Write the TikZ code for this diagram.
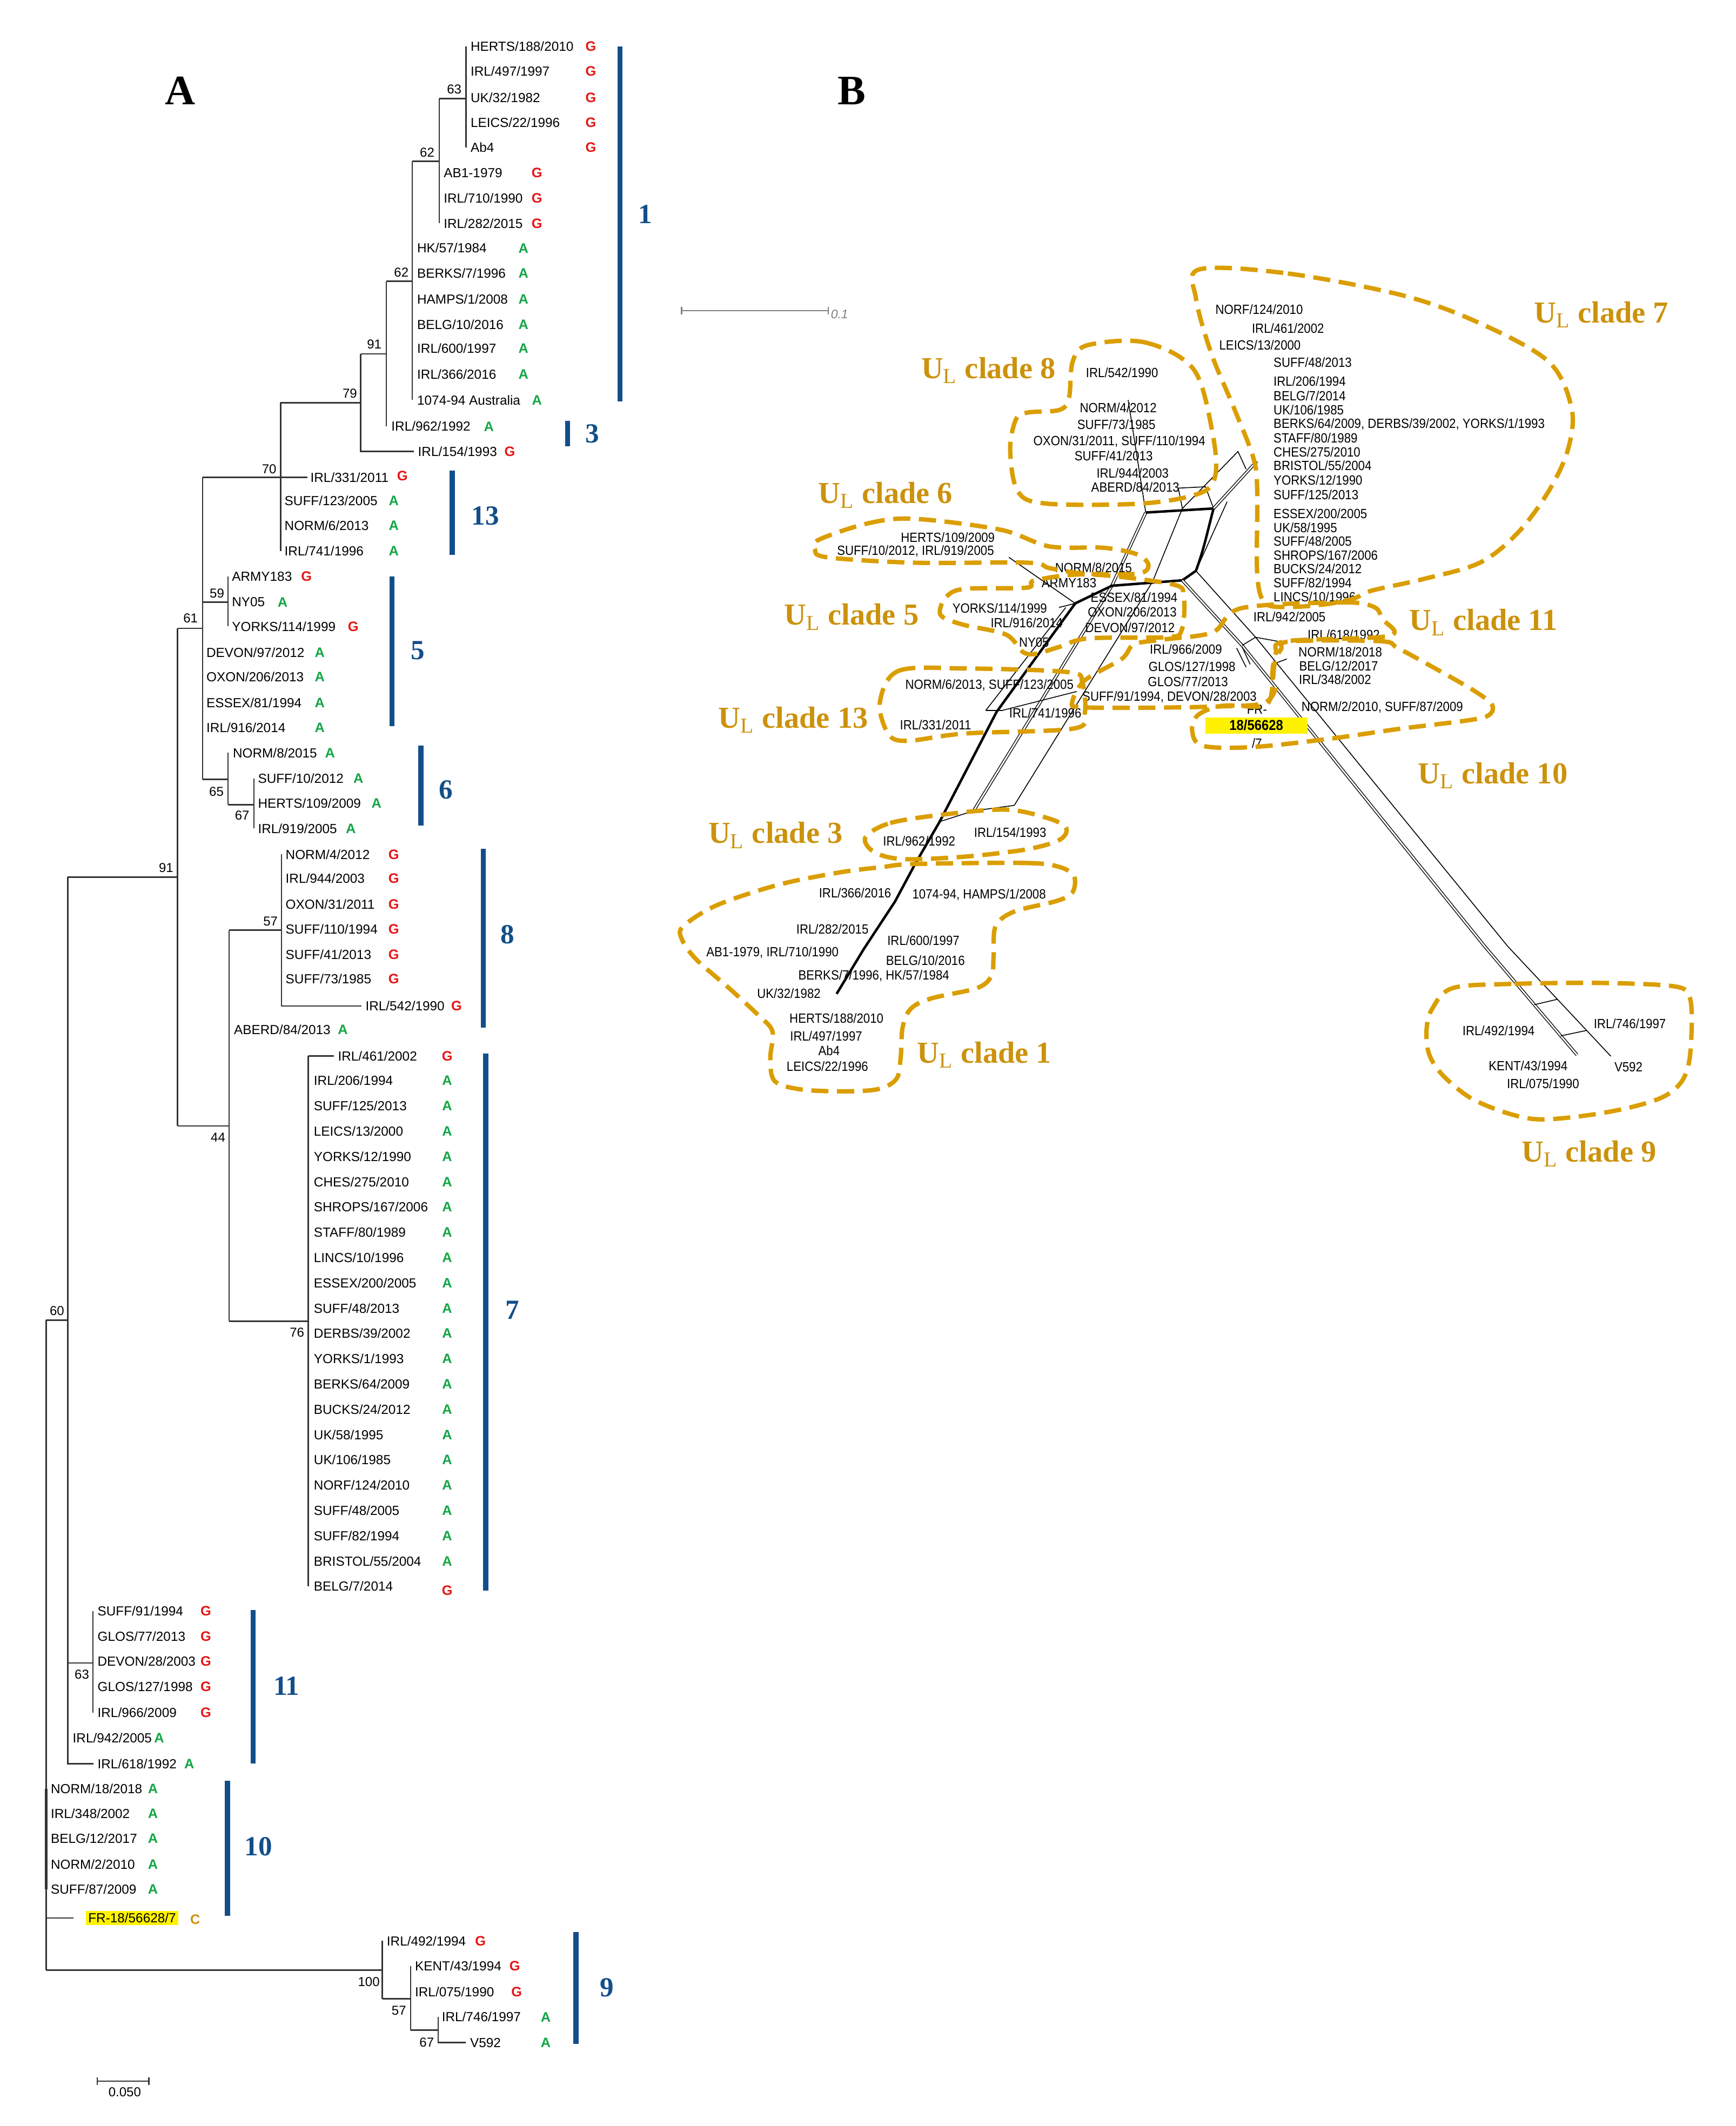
\documentclass[tikz,border=0pt]{standalone}
\usepackage{fontspec}
\setmainfont{Liberation Serif}
\newfontfamily\treefont{Liberation Sans}
\newfontfamily\netfont[FakeStretch=0.9]{Liberation Sans}

\definecolor{barblue}{RGB}{18,78,138}
\definecolor{cladeorange}{RGB}{218,158,0}
\definecolor{cladetext}{RGB}{204,146,12}
\definecolor{markred}{RGB}{232,20,20}
\definecolor{markgreen}{RGB}{20,165,70}

\tikzset{
  br/.style={draw=black!80, line width=0.7pt},
  lbl/.style={anchor=west, inner sep=0pt, font=\treefont\fontsize{6.9}{8}\selectfont},
  mkG/.style={inner sep=0pt, text=markred, font=\treefont\bfseries\fontsize{7.2}{8}\selectfont},
  mkA/.style={inner sep=0pt, text=markgreen, font=\treefont\bfseries\fontsize{7.2}{8}\selectfont},
  mkC/.style={inner sep=0pt, text=cladetext, font=\treefont\bfseries\fontsize{7.2}{8}\selectfont},
  bs/.style={inner sep=0pt, font=\treefont\fontsize{6.8}{8}\selectfont},
  bar/.style={draw=barblue, line width=2.7pt},
  cnum/.style={inner sep=0pt, text=barblue, font=\bfseries\fontsize{14.5}{16}\selectfont},
  panel/.style={inner sep=0pt, font=\bfseries\fontsize{22}{24}\selectfont},
  net/.style={draw=black, line width=0.45pt},
  netk/.style={draw=black, line width=1.3pt},
  netd/.style={draw=black, line width=0.4pt, double=white, double distance=0.8pt},
  nl/.style={inner sep=0pt, font=\netfont\fontsize{7}{8}\selectfont},
  nlw/.style={nl, anchor=west},
  clade/.style={draw=cladeorange, line width=2.3pt, dash pattern=on 9pt off 4.5pt},
  cname/.style={inner sep=0pt, text=cladetext, font=\bfseries\fontsize{16}{18}\selectfont},
}

\begin{document}
\begin{tikzpicture}[x=0.025cm, y=-0.025cm]
    \useasboundingbox (0,0) rectangle (1280,1568);

    % Panel letters
    \node[panel] (pa) at (133,67) {A};
    \node[panel] (pb) at (628,67) {B};

    % ================= A: tree =================
    % Leaves
    \foreach \y/\t [count=\i] in {34.3/{HERTS/188/2010}, 52.6/{IRL/497/1997}, 72/{UK/32/1982}, 90.3/{LEICS/22/1996}, 108.6/{Ab4}}{
        \node[lbl] (la\i) at (346.8,\y) {\t};
        \node[mkG] (ma\i) at (435.7,\y) {G};
    }
    \foreach \y/\t [count=\i] in {127.6/{AB1-1979}, 146/{IRL/710/1990}, 164.7/{IRL/282/2015}}{
        \node[lbl] (lb\i) at (327,\y) {\t};
        \node[mkG] (mb\i) at (396,\y) {G};
    }
    \foreach \y/\t/\mx [count=\i] in {183/{HK/57/1984}/386, 201.7/{BERKS/7/1996}/386, 220.7/{HAMPS/1/2008}/386, 239.5/{BELG/10/2016}/386, 257/{IRL/600/1997}/386, 276/{IRL/366/2016}/386, 295/{1074-94 Australia}/396}{
        \node[lbl] (lc\i) at (307.4,\y) {\t};
        \node[mkA] (mc\i) at (\mx,\y) {A};
    }
    \node[lbl] (l962) at (288.4,314.5) {IRL/962/1992};
    \node[mkA] (m962) at (360.5,314.5) {A};
    \node[lbl] (l154) at (308,333) {IRL/154/1993};
    \node[mkG] (m154) at (376,333) {G};
    \node[lbl] (l331) at (228.7,352) {IRL/331/2011};
    \node[mkG] (m331) at (296.8,351) {G};
    \foreach \y/\t [count=\i] in {369.3/{SUFF/123/2005}, 387.8/{NORM/6/2013}, 406.3/{IRL/741/1996}}{
        \node[lbl] (ld\i) at (209.6,\y) {\t};
        \node[mkA] (md\i) at (290.4,\y) {A};
    }
    \foreach \y/\t/\m/\mx [count=\i] in {425.2/ARMY183/G/226, 444/NY05/A/208.4, 462/{YORKS/114/1999}/G/260.5}{
        \node[lbl] (le\i) at (170.8,\y) {\t};
        \node[mk\m] (me\i) at (\mx,\y) {\m};
    }
    \foreach \y/\t [count=\i] in {481.2/{DEVON/97/2012}, 499.3/{OXON/206/2013}, 518.3/{ESSEX/81/1994}, 536.5/{IRL/916/2014}}{
        \node[lbl] (lf\i) at (152,\y) {\t};
        \node[mkA] (mf\i) at (235.8,\y) {A};
    }
    \node[lbl] (l815) at (171.5,555.2) {NORM/8/2015};
    \node[mkA] (m815) at (243.4,555.2) {A};
    \foreach \y/\t/\mx [count=\i] in {574.2/{SUFF/10/2012}/264.3, 592.4/{HERTS/109/2009}/277.7, 611/{IRL/919/2005}/258.7}{
        \node[lbl] (lg\i) at (190,\y) {\t};
        \node[mkA] (mg\i) at (\mx,\y) {A};
    }
    \foreach \y/\t [count=\i] in {630.1/{NORM/4/2012}, 648/{IRL/944/2003}, 667/{OXON/31/2011}, 685.2/{SUFF/110/1994}, 704/{SUFF/41/2013}, 722/{SUFF/73/1985}}{
        \node[lbl] (lh\i) at (210.4,\y) {\t};
        \node[mkG] (mh\i) at (290.4,\y) {G};
    }
    \node[lbl] (l542) at (269.3,742) {IRL/542/1990};
    \node[mkG] (m542) at (336.7,742) {G};
    \node[lbl] (laberd) at (172.3,759.3) {ABERD/84/2013};
    \node[mkA] (maberd) at (252.8,759.3) {A};
    \node[lbl] (l461) at (249,778.8) {IRL/461/2002};
    \node[mkG] (m461) at (329.8,778.8) {G};
    \foreach \t [count=\i, evaluate=\i as \y using 797+(\i-1)*18.65] in {{IRL/206/1994}, {SUFF/125/2013}, {LEICS/13/2000}, {YORKS/12/1990}, {CHES/275/2010}, {SHROPS/167/2006}, {STAFF/80/1989}, {LINCS/10/1996}, {ESSEX/200/2005}, {SUFF/48/2013}, {DERBS/39/2002}, {YORKS/1/1993}, {BERKS/64/2009}, {BUCKS/24/2012}, {UK/58/1995}, {UK/106/1985}, {NORF/124/2010}, {SUFF/48/2005}, {SUFF/82/1994}, {BRISTOL/55/2004}}{
        \node[lbl] (li\i) at (231.2,\y) {\t};
        \node[mkA] (mi\i) at (329.8,\y) {A};
    }
    \node[lbl] (li21) at (231.2,1170) {BELG/7/2014};
    \node[mkG] (mi21) at (329.8,1173) {G};
    \foreach \y/\t [count=\i] in {1188.3/{SUFF/91/1994}, 1206.7/{GLOS/77/2013}, 1225.1/{DEVON/28/2003}, 1244/{GLOS/127/1998}, 1263.2/{IRL/966/2009}}{
        \node[lbl] (lj\i) at (71.7,\y) {\t};
        \node[mkG] (mj\i) at (151.8,\y) {G};
    }
    \node[lbl] (l942) at (53.4,1281.6) {IRL/942/2005};
    \node[mkA] (m942) at (117.4,1281.6) {A};
    \node[lbl] (l618) at (71.7,1300.8) {IRL/618/1992};
    \node[mkA] (m618) at (139.6,1300.8) {A};
    \foreach \y/\t [count=\i] in {1319.3/{NORM/18/2018}, 1337.7/{IRL/348/2002}, 1356/{BELG/12/2017}, 1375/{NORM/2/2010}, 1393.4/{SUFF/87/2009}}{
        \node[lbl] (lk\i) at (37.2,\y) {\t};
        \node[mkA] (mk\i) at (112.8,\y) {A};
    }
    \node[lbl, fill=yellow, inner xsep=1.2pt, inner ysep=1.2pt] (lfr) at (63.1,1414.5) {FR-18/56628/7};
    \node[mkC] (mfr) at (144,1415.8) {C};
    \node[lbl] (l492) at (285,1431.5) {IRL/492/1994};
    \node[mkG] (m492) at (354.3,1431.5) {G};
    \node[lbl] (ll1) at (305.8,1450) {KENT/43/1994};
    \node[mkG] (ml1) at (379.6,1450) {G};
    \node[lbl] (ll2) at (305.8,1468.9) {IRL/075/1990};
    \node[mkG] (ml2) at (381,1468.9) {G};
    \node[lbl] (l746) at (325.6,1487.6) {IRL/746/1997};
    \node[mkA] (m746) at (402.5,1487.6) {A};
    \node[lbl] (lv592) at (346.4,1506.5) {V592};
    \node[mkA] (mv592) at (402.5,1506.5) {A};

    % Internal nodes
    \coordinate (n63a) at (343.6,72.7);
    \coordinate (n62a) at (324,119);
    \coordinate (n62b) at (304,207.4);
    \coordinate (n91a) at (285,261);
    \coordinate (n79) at (266,297);
    \coordinate (n70) at (207,352);
    \coordinate (n61) at (149.4,463.5);
    \coordinate (n59) at (168.2,444);
    \coordinate (n65) at (168.2,574.8);
    \coordinate (n67a) at (187.3,593.5);
    \coordinate (n91b) at (130.9,646.9);
    \coordinate (n44) at (169,830.5);
    \coordinate (n57a) at (207.6,686);
    \coordinate (n76) at (227.4,974.4);
    \coordinate (n60) at (50,973.6);
    \coordinate (n63b) at (68.6,1226.4);
    \coordinate (root) at (34,1453);
    \coordinate (efr) at (54.3,1414.5);
    \coordinate (n100) at (282,1453);
    \coordinate (n57b) at (302.8,1474.2);
    \coordinate (n67b) at (323.2,1497.3);

    % Branches
    \draw[br] (n63a |- la1) -- (n63a |- la5);
    \draw[br] (n62a |- n63a) -- (n63a);
    \draw[br] (n62a |- n63a) -- (n62a |- lb3);
    \draw[br] (n62b |- n62a) -- (n62a);
    \draw[br] (n62b |- n62a) -- (n62b |- lc7);
    \draw[br] (n91a |- n62b) -- (n62b);
    \draw[br] (n91a |- n62b) -- (n91a |- l962);
    \draw[br] (n79 |- n91a) -- (n91a);
    \draw[br] (n79 |- n91a) -- (n79 |- l154) -- ([xshift=-2pt]l154.west);
    \draw[br] (n70 |- n79) -- (n79);
    \draw[br] (n70 |- n79) -- (n70 |- ld3);
    \draw[br] (n70) -- ([xshift=-1.5pt]l331.west);
    \draw[br] (n61 |- n70) -- (n70);
    \draw[br] (n61 |- n70) -- (n61 |- n65);
    \draw[br] (n61 |- n59) -- (n59);
    \draw[br] (n59 |- le1) -- (n59 |- le3);
    \draw[br] (n61 |- n65) -- (n65);
    \draw[br] (n65 |- l815) -- (n65 |- n67a);
    \draw[br] (n65 |- n67a) -- (n67a);
    \draw[br] (n67a |- lg1) -- (n67a |- lg3);
    \draw[br] (n91b |- n61) -- (n61);
    \draw[br] (n91b |- n61) -- (n91b |- n44);
    \draw[br] (n91b |- n44) -- (n44);
    \draw[br] (n44 |- n57a) -- (n44 |- n76);
    \draw[br] (n44 |- n57a) -- (n57a);
    \draw[br] (n57a |- lh1) -- (n57a |- l542) -- ([xshift=-2pt]l542.west);
    \draw[br] (n44 |- n76) -- (n76);
    \draw[br] (n76 |- l461) -- (n76 |- li21);
    \draw[br] (n76 |- l461) -- ([xshift=-2pt]l461.west);
    \draw[br] (n60 |- n91b) -- (n91b);
    \draw[br] (n60 |- n91b) -- (n60 |- l618) -- ([xshift=-2pt]l618.west);
    \draw[br] (n60 |- n63b) -- (n63b);
    \draw[br] (n63b |- lj1) -- (n63b |- lj5);
    \draw[br] (root |- n60) -- (n60);
    \draw[br] (root |- n60) -- (root);
    \draw[br, line width=1.3pt] (root |- lk1) -- (root |- lk5);
    \draw[br] (root |- lfr) -- (efr);
    \draw[br] (root) -- (n100);
    \draw[br] (n100 |- l492) -- (n100 |- n57b);
    \draw[br] (n100 |- n57b) -- (n57b);
    \draw[br] (n57b |- ll1) -- (n57b |- n67b);
    \draw[br] (n57b |- n67b) -- (n67b);
    \draw[br] (n67b |- l746) -- (n67b |- lv592) -- ([xshift=-2pt]lv592.west);

    % Support values
    \foreach \x/\y/\v [count=\i] in {335/66/63, 315/112.5/62, 296/201/62, 276/254/91, 258/290/79, 198.5/345.8/70, 160/437.8/59, 140.5/456/61, 159.6/583.7/65, 178.6/601.3/67, 122.5/640/91, 199.5/679.6/57, 160.8/838.9/44, 219/982.8/76, 42/966.6/60, 60.4/1235/63, 272/1461.8/100, 294.2/1482.8/57, 314.7/1506.5/67}
        \node[bs] (bs\i) at (\x,\y) {\v};

    % Clade bars
    \foreach \n/\x/\ya/\yb/\lx/\ly in {1/457.3/34.3/296/476/158, 3/418.6/310.6/329/436.7/319.7, 13/333.6/347/409.3/358/380.5, 5/289/425/535.7/308/479.7, 6/310.5/550/609/329/582.6, 8/356.5/626/758/374.3/689.4, 7/358.3/777/1173/377.9/966, 11/186.6/1187.5/1300.6/211.3/1243.5, 10/167.7/1313.2/1413.1/190.6/1361.9, 9/424.7/1425/1507.3/447.6/1465.7}{
        \coordinate (bt\n) at (\x,\ya);
        \coordinate (bb\n) at (\x,\yb);
        \draw[bar] (bt\n) -- (bb\n);
        \node[cnum] (cn\n) at (\lx,\ly) {\n};
    }

    % Scale bar
    \coordinate (sa) at (71.7,1535);
    \coordinate (sb) at (109.8,1535);
    \draw[br] (sa) -- (sb);
    \draw[br] ([yshift=2pt]sa) -- ([yshift=-2pt]sa);
    \draw[br] ([yshift=2pt]sb) -- ([yshift=-2pt]sb);
    \node[bs] (sl) at (92,1543) {0.050};

    % ================= B: network =================
    % Scale
    \coordinate (na) at (502.7,229.1);
    \coordinate (nb) at (610.9,229.1);
    \draw[draw=gray, line width=0.7pt] (na) -- (nb);
    \draw[draw=gray, line width=0.7pt] ([yshift=2pt]na) -- ([yshift=-2pt]na);
    \draw[draw=gray, line width=0.7pt] ([yshift=2pt]nb) -- ([yshift=-2pt]nb);
    \node[inner sep=0pt, anchor=west, text=gray, font=\treefont\itshape\fontsize{6.5}{7}\selectfont] (nsl) at (612.5,231.8) {0.1};

    % Split points
    \coordinate (t0) at (617,733);
    \coordinate (t1) at (637,700);
    \coordinate (t2) at (660,665);
    \coordinate (t3) at (675,637);
    \coordinate (t4) at (693,606);
    \coordinate (t5) at (735,525);
    \coordinate (h1) at (793,445);
    \coordinate (y1) at (781,448);
    \coordinate (q1) at (718,598);
    \coordinate (q2) at (748,594);
    \coordinate (m1) at (820,432);
    \coordinate (m2) at (850,429);
    \coordinate (b1) at (845,378);
    \coordinate (b2) at (895,375);
    \coordinate (b3) at (872,375);
    \coordinate (b4) at (869,360);
    \coordinate (b5) at (889,359);
    \coordinate (b6) at (905,370);
    \coordinate (s1) at (927,340);
    \coordinate (s2) at (913,333);
    \coordinate (s3) at (919,346);
    \coordinate (c8) at (832,295);
    \coordinate (a1) at (744,411);
    \coordinate (h2) at (872,428);
    \coordinate (h3) at (882,421);
    \coordinate (k1) at (916,476);
    \coordinate (k3) at (926,470);
    \coordinate (k2) at (1095,698);
    \coordinate (k4) at (1112,698);
    \coordinate (kent) at (1163,778);
    \coordinate (v592) at (1188,779);
    \coordinate (r1) at (1131.5,741);
    \coordinate (r2) at (1148.6,737);
    \coordinate (r3) at (1151,764);
    \coordinate (r4) at (1170,760);
    \coordinate (p1) at (727,524);
    \coordinate (p2) at (786,448);
    \coordinate (p3) at (739,524);
    \coordinate (p4) at (794,510);
    \coordinate (e1) at (948,474);
    \coordinate (e2) at (941,489);
    \coordinate (e3) at (949,486);
    \coordinate (f1) at (912,478);
    \coordinate (f2) at (919,492);
    \coordinate (f3) at (916,477);
    \coordinate (f4) at (922,490);

    % Splits
    \draw[netk] (t0) -- (t1) -- (t2) -- (t3) -- (t4) -- (t5) -- (h1);
    \draw[net] (t4) -- (q1) -- (q2);
    \draw[netd] (q1) -- (m1) -- (b1);
    \draw[net] (q2) -- (m2) -- (b3);
    \draw[net] (p1) -- (p2);
    \draw[net] (p1) -- (p3) -- (p4);
    \draw[netk] (h1) -- (m1) -- (h2);
    \draw[net] (h1) -- (a1);
    \draw[net] (h1) -- (y1);
    \draw[netk] (b1) -- (b2);
    \draw[net] (b1) -- (c8);
    \draw[net] (b3) -- (b4) -- (b5) -- (b2);
    \draw[netd] (b2) -- (s1);
    \draw[net] (b3) -- (s2) -- (s3);
    \draw[netk] (b2) to[out=-105, in=70] (h3);
    \draw[net] (b6) -- (h3);
    \draw[netk] (h2) -- (h3);
    \draw[netd] (h2) -- (k1) -- (k2) -- (kent);
    \draw[net] (h3) -- (k3) -- (k4) -- (v592);
    \draw[net] (k1) -- (k3);
    \draw[net] (k3) -- (e1);
    \draw[net] (e2) -- (e3);
    \draw[net] (f1) -- (f2);
    \draw[net] (f3) -- (f4);
    \draw[net] (r1) -- (r2);
    \draw[net] (r3) -- (r4);

    % Network labels
    \foreach \x/\y/\t [count=\i] in {
        827.5/274.9/{IRL/542/1990}, 824.7/300.9/{NORM/4/2012}, 823.3/313.1/{SUFF/73/1985},
        825.5/325.7/{OXON/31/2011, SUFF/110/1994}, 821.3/336.2/{SUFF/41/2013},
        835.3/349/{IRL/944/2003}, 837.3/359.2/{ABERD/84/2013},
        699/396.4/{HERTS/109/2009}, 675.2/406.6/{SUFF/10/2012, IRL/919/2005},
        806.5/418.8/{NORM/8/2015}, 788.4/430/{ARMY183},
        737.3/448.5/{YORKS/114/1999}, 757.2/459.2/{IRL/916/2014}, 762.6/473.8/{NY05},
        836.4/440.5/{ESSEX/81/1994}, 835/451.2/{OXON/206/2013}, 833.4/462.8/{DEVON/97/2012},
        729.7/505.5/{NORM/6/2013, SUFF/123/2005}, 690/534.8/{IRL/331/2011}, 770.9/526/{IRL/741/1996},
        951/455/{IRL/942/2005}, 991/468/{IRL/618/1992}, 874.6/478.8/{IRL/966/2009},
        879.1/491.6/{GLOS/127/1998}, 876.1/502.8/{GLOS/77/2013}, 862.5/514/{SUFF/91/1994, DEVON/28/2003},
        988.5/481/{NORM/18/2018}, 987.2/491/{BELG/12/2017}, 984.6/501/{IRL/348/2002},
        1019.4/521.5/{NORM/2/2010, SUFF/87/2009}, 927/523/{FR-}, 927/548/{/7},
        677.9/620.2/{IRL/962/1992}, 745/614/{IRL/154/1993},
        630.6/658.6/{IRL/366/2016}, 722.1/660.1/{1074-94, HAMPS/1/2008}, 613.9/685.2/{IRL/282/2015},
        681/693.6/{IRL/600/1997}, 569.7/702.5/{AB1-1979, IRL/710/1990}, 682.5/708.4/{BELG/10/2016},
        644.4/719.5/{BERKS/7/1996, HK/57/1984}, 581.8/732.5/{UK/32/1982}, 616.9/750.8/{HERTS/188/2010},
        609.3/764.2/{IRL/497/1997}, 611.4/774.8/{Ab4}, 610.2/786.6/{LEICS/22/1996},
        1105.2/760/{IRL/492/1994}, 1127/786/{KENT/43/1994}, 1138/799/{IRL/075/1990},
        1202/755/{IRL/746/1997}, 1201/787/{V592}}
        \node[nl] (nl\i) at (\x,\y) {\t};
    \foreach \x/\y/\t [count=\i] in {
        896.1/228.1/{NORF/124/2010}, 923/242.3/{IRL/461/2002}, 898.9/254.5/{LEICS/13/2000},
        939/267.1/{SUFF/48/2013}, 939/281/{IRL/206/1994}, 939/292.1/{BELG/7/2014},
        939/302.3/{UK/106/1985}, 939/312.9/{BERKS/64/2009, DERBS/39/2002, YORKS/1/1993},
        939/323/{STAFF/80/1989}, 939/333.2/{CHES/275/2010}, 939/343.4/{BRISTOL/55/2004},
        939/354.1/{YORKS/12/1990}, 939/364.7/{SUFF/125/2013}, 939/379/{ESSEX/200/2005},
        939/389.1/{UK/58/1995}, 939/399.3/{SUFF/48/2005}, 939/409.5/{SHROPS/167/2006},
        939/419.6/{BUCKS/24/2012}, 939/429.8/{SUFF/82/1994}, 939/440/{LINCS/10/1996}}
        \node[nlw] (nw\i) at (\x,\y) {\t};
    \node[nl, fill=yellow, minimum width=1.88cm, minimum height=0.3cm, font=\netfont\bfseries\fontsize{7.5}{8}\selectfont] (fr) at (926.5,535) {18/56628};

    % Clade outlines
    \draw[clade] plot[smooth cycle, tension=0.55] coordinates {(884.8,198.6) (949.8,201.7) (1034.7,217.9) (1091.2,238.3) (1142.1,266.7) (1159.1,301.3) (1156.3,331.8) (1142.1,362.3) (1119.5,392.8) (1091.2,415.1) (1048.8,427.3) (1012,435.5) (997.9,441.6) (978.1,445.6) (949.8,447.7) (932.9,444.6) (927.2,423.3) (927.2,362.3) (924.4,337.9) (910.2,301.3) (893.3,260.6) (882,220)};
    \draw[clade] plot[smooth cycle, tension=0.55] coordinates {(802.3,254.5) (844.3,252.5) (880.6,272.8) (894.6,321.6) (896,352) (883.4,364.3) (841.5,371.4) (771.6,371.4) (750.6,362.3) (745,331.8) (749.2,309.4) (757.6,304.3) (781.4,302.3) (788.4,293.2) (791.1,266.7)};
    \draw[clade] plot[smooth cycle, tension=0.55] coordinates {(604,398) (640,386) (674,382.6) (738,390.7) (774,403) (814,404) (839,409) (847,417) (839,423) (800,423) (774,419) (758,415) (674,415) (610,411) (601,405)};
    \draw[clade] plot[smooth cycle, tension=0.55] coordinates {(693.1,450.3) (698,440) (711.4,434.3) (757.2,433.4) (763.3,428) (803,423.6) (863.9,430.8) (873,439.6) (871.5,464.6) (860.8,469.9) (803,470.8) (781.6,477) (763.3,482.3) (754,480.6) (741.9,468) (711.4,461) (696.2,455.7)};
    \draw[clade] plot[smooth cycle, tension=0.55] coordinates {(648.9,518) (662.6,494.8) (711.4,493) (787.7,495.7) (798.3,503.7) (799.9,526.8) (790.7,537.5) (711.4,541) (668.7,546.4) (655,541)};
    \draw[clade] plot[smooth cycle, tension=0.55] coordinates {(915.7,448.5) (989.8,444.3) (1013,447.5) (1019.4,456.4) (1024.5,469) (948.6,472.9) (940.9,481.8) (938.3,498.3) (940.9,507.2) (931.8,518.6) (900,521) (840,522) (796.8,521.5) (790.7,518) (799.9,501.9) (827.3,485.9) (836.4,475.2) (857.8,471.7) (894.4,466.3)};
    \draw[clade] plot[smooth cycle, tension=0.55] coordinates {(952,473) (1018,472.9) (1030.9,478) (1056.7,492) (1087.6,509.7) (1100.4,519.9) (1097.9,527.5) (1082.4,531.3) (1030.9,537.7) (979.5,545) (923.4,551) (886.8,550) (879.2,538.6) (883.8,527.1) (902,520.5) (929.5,521) (937.1,514.4) (940.1,489) (944.7,479)};
    \draw[clade] plot[smooth cycle, tension=0.55] coordinates {(638.3,617.5) (656.5,607) (696.2,600.7) (741.9,597.1) (772.4,603.3) (786.1,610.4) (781.6,619.3) (757.2,626.4) (711.4,631.8) (665.7,633.6) (644.4,628.2)};
    \draw[clade] plot[smooth cycle, tension=0.55] coordinates {(674.8,637.2) (757.2,636.5) (781.6,639.5) (792.2,646.4) (790.7,658.6) (778.5,664.7) (748,672.3) (734.3,683) (732.8,704.3) (731.2,719.5) (720.6,728.7) (687,736.3) (671.8,743.9) (665.7,757.6) (664.2,780.5) (661.1,795.7) (647.4,803.3) (620,804.9) (589.5,803.3) (571.2,797.2) (568.1,780.5) (569.7,760.7) (559,748.5) (537.6,728.7) (513.2,707.3) (502.6,692.1) (504.1,683) (528.5,667.7) (574.2,652.5) (620,643.3) (650.5,639.5)};
    \draw[clade] plot[smooth cycle, tension=0.55] coordinates {(1071.5,728.7) (1117,725.6) (1184.4,725) (1235,727.5) (1245.9,735) (1247.6,755.2) (1245.9,782) (1240,798) (1226.5,809) (1201.2,817) (1167.5,823) (1133.9,825.5) (1108.6,820) (1083.3,809) (1063.1,792) (1053.8,777) (1052.1,759) (1056.3,743.9)};

    % Clade names
    \foreach \n/\x/\y in {7/1181/232, 8/729/273, 6/653/365, 5/628/455, 11/1094/459, 13/585/531, 10/1101/572, 3/572/616, 1/726/778, 9/1172/851}
        \node[cname] (cl\n) at (\x,\y) {U\textsubscript{\mdseries L} clade \n};
\end{tikzpicture}
\end{document}
